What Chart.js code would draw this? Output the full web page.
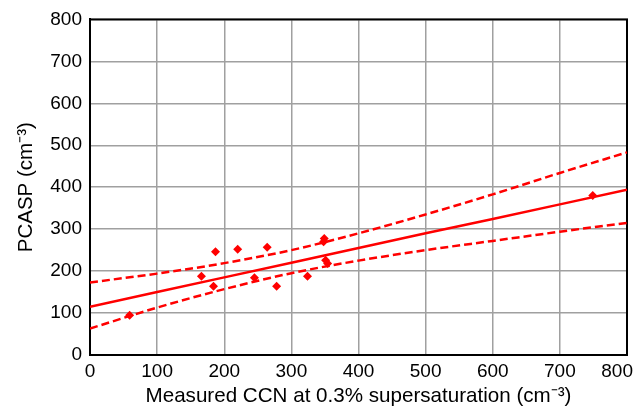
<!DOCTYPE html>
<html>
<head>
<meta charset="utf-8">
<script src="https://cdn.jsdelivr.net/npm/chart.js@4/dist/chart.umd.min.js"></script>
<style>
  html, body { margin: 0; padding: 0; background: #fff; }
  #wrap { width: 636px; height: 412px; }
</style>
</head>
<body>
<div id="wrap"><canvas id="c" width="636" height="412"></canvas></div>
<script>
// Measured CCN at 0.3% supersaturation vs PCASP concentration (cm^-3)
const ccnValues   = [59, 166, 187, 184, 220, 245, 264, 278, 324, 348, 349, 351, 354, 749];
const pcaspValues = [95, 188, 246, 164, 252, 184, 257, 164, 188, 270, 278, 226, 218, 380];

// Regression line and its confidence band, sampled along the CCN axis
const bandX      = [0, 100, 200, 300, 400, 500, 600, 700, 800];
const fitValues  = [115, 150, 185, 220, 255, 290, 324, 359, 394];
const upperBand  = [173, 194, 219, 250, 290, 335, 383, 434, 483];
const lowerBand  = [63, 113, 157, 195, 225, 250, 272, 294, 315];

const xTickLabels = ['0', '100', '200', '300', '400', '500', '600', '700', '800'];
const yTickLabels = ['0', '100', '200', '300', '400', '500', '600', '700', '800'];

const RED = '#ff0000';
const FONT = "'Liberation Sans', Arial, sans-serif";

const toPoints = (xs, ys) => xs.map((x, i) => ({ x: x, y: ys[i] }));

// Full black frame around the plot area
const frame = {
  id: 'frame',
  beforeDatasetsDraw(chart) {
    const { ctx, chartArea: a } = chart;
    ctx.save();
    ctx.strokeStyle = '#000';
    ctx.lineWidth = 2;
    ctx.strokeRect(a.left, a.top, a.right - a.left, a.bottom - a.top);
    ctx.restore();
  }
};

// CCN tick labels, kept inside the canvas at the right end
const xLabels = {
  id: 'xLabels',
  afterDraw(chart) {
    const { ctx } = chart;
    const sx = chart.scales.x;
    ctx.save();
    ctx.font = '19px ' + FONT;
    ctx.fillStyle = '#000';
    ctx.textBaseline = 'alphabetic';
    ctx.textAlign = 'left';
    sx.ticks.forEach((t, i) => {
      const txt = xTickLabels[i];
      const w = ctx.measureText(txt).width;
      let left = sx.getPixelForValue(t.value) - w / 2;
      left = Math.min(left, chart.width - 3 - w);
      ctx.fillText(txt, left, sx.top + 22);
    });
    ctx.restore();
  }
};

new Chart(document.getElementById('c'), {
  type: 'scatter',
  data: {
    datasets: [
      {
        label: 'Observations',
        data: toPoints(ccnValues, pcaspValues),
        pointStyle: 'rectRot',
        pointRadius: 4.5,
        backgroundColor: RED,
        borderColor: RED,
        borderWidth: 0,
        showLine: false,
        order: 0
      },
      {
        label: 'Fit',
        data: toPoints(bandX, fitValues),
        showLine: true,
        borderColor: RED,
        borderWidth: 2.5,
        pointRadius: 0,
        order: 1
      },
      {
        label: 'Upper',
        data: toPoints(bandX, upperBand),
        showLine: true,
        borderColor: RED,
        borderWidth: 2.5,
        borderDash: [8, 4],
        cubicInterpolationMode: 'monotone',
        pointRadius: 0,
        order: 1
      },
      {
        label: 'Lower',
        data: toPoints(bandX, lowerBand),
        showLine: true,
        borderColor: RED,
        borderWidth: 2.5,
        borderDash: [8, 4],
        cubicInterpolationMode: 'monotone',
        pointRadius: 0,
        order: 1
      }
    ]
  },
  options: {
    responsive: false,
    animation: false,
    devicePixelRatio: 1,
    layout: { padding: { left: 0, top: 18, right: 9, bottom: 0 } },
    plugins: {
      legend: { display: false },
      tooltip: { enabled: false }
    },
    scales: {
      x: {
        type: 'linear',
        min: 0,
        max: 800,
        ticks: { display: false, stepSize: 100 },
        grid: { color: '#a0a0a0', lineWidth: 1.5, drawTicks: false },
        border: { color: '#000', width: 2 },
        title: {
          display: true,
          text: 'Measured CCN at 0.3% supersaturation (cm\u207B\u00B3)',
          color: '#000',
          font: { family: FONT, size: 20.6 },
          padding: { top: 0, bottom: 3 }
        },
        afterFit(scale) { scale.height = 57; scale.paddingLeft = 0; scale.paddingRight = 0; }
      },
      y: {
        type: 'linear',
        min: 0,
        max: 800,
        ticks: {
          stepSize: 100,
          color: '#000',
          padding: 8,
          font: { family: FONT, size: 19 },
          callback: (v) => yTickLabels[Math.round(v / 100)]
        },
        grid: { color: '#a0a0a0', lineWidth: 1.5, drawTicks: false },
        border: { color: '#000', width: 2 },
        title: {
          display: true,
          text: 'PCASP (cm\u207B\u00B3)',
          color: '#000',
          font: { family: FONT, size: 20.5 },
          padding: { top: 14, bottom: 0 }
        },
        afterFit(scale) { scale.width = 90; }
      }
    }
  },
  plugins: [frame, xLabels]
});
</script>
</body>
</html>
